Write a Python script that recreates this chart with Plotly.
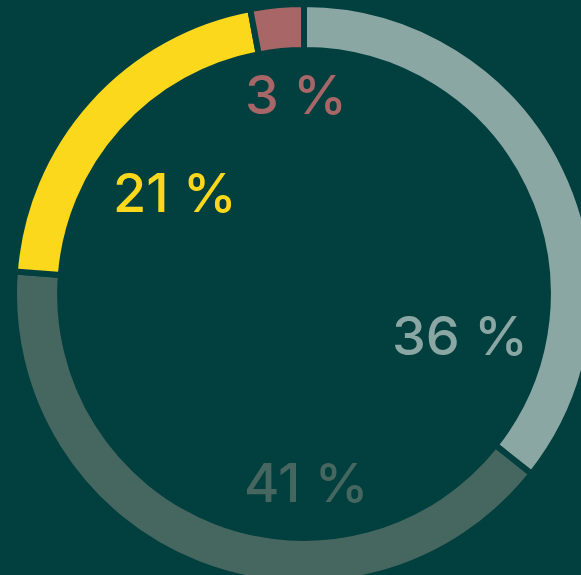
import plotly.graph_objects as go

categories = ["A", "B", "C", "D"]
values = [36, 41, 21, 3]
labels_text = ["36 %", "41 %", "21 %", "3 %"]
colors = ["#8ba7a4", "#46675f", "#fbd81c", "#a86666"]
bg = "#023f3f"

W, H = 610, 595
cx, cy, R = 304, 294, 290
# label centres (pixels) as laid out in the reference
label_pos = [(460, 335), (306, 482), (175, 193), (296, 95)]

fig = go.Figure(go.Pie(
    labels=categories,
    values=values,
    sort=False,
    direction="clockwise",
    rotation=0,
    hole=0.841,
    marker=dict(colors=colors, line=dict(color=bg, width=6)),
    textinfo="none",
    hoverinfo="skip",
    showlegend=False,
    domain=dict(x=[(cx - R) / W, (cx + R) / W], y=[1 - (cy + R) / H, 1 - (cy - R) / H]),
))

for txt, col, (px, py) in zip(labels_text, colors, label_pos):
    fig.add_annotation(x=px / W, y=1 - py / H, xref="paper", yref="paper",
                       text=txt, showarrow=False, xanchor="center", yanchor="middle",
                       font=dict(family="Inter", size=54, weight=500, color=col))

fig.update_layout(width=W, height=H, margin=dict(l=0, r=0, t=0, b=0),
                  paper_bgcolor=bg, plot_bgcolor=bg)

fig.write_html("out.html", config={"displayModeBar": False},
               post_script="document.body.style.margin='0';document.body.style.overflow='hidden';document.documentElement.style.overflow='hidden';document.body.style.background='" + bg + "';")
